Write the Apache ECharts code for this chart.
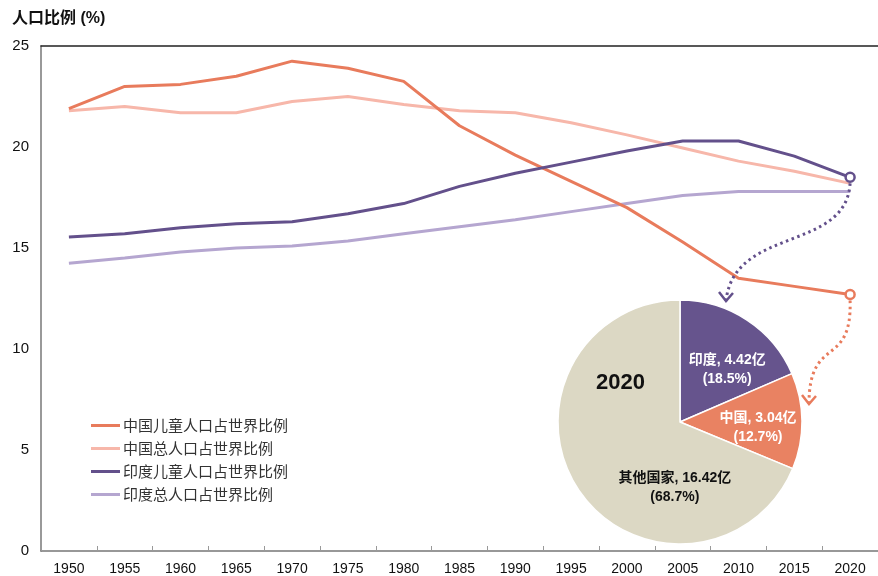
<!DOCTYPE html>
<html>
<head>
<meta charset="utf-8">
<script src="https://cdn.jsdelivr.net/npm/echarts@6/dist/echarts.min.js"></script>
<style>
body { margin: 0; background: #fff; }
#main { width: 878px; height: 576px; }
</style>
</head>
<body>
<div id="main"></div>
<script>
var years = ['1950', '1955', '1960', '1965', '1970', '1975', '1980', '1985', '1990', '1995', '2000', '2005', '2010', '2015', '2020'];
var chinaChild = [21.9, 23.0, 23.1, 23.5, 24.25, 23.9, 23.25, 21.05, 19.6, 18.3, 17.0, 15.3, 13.5, 13.1, 12.7];
var chinaTotal = [21.8, 22.0, 21.7, 21.7, 22.25, 22.5, 22.1, 21.8, 21.7, 21.2, 20.6, 19.95, 19.3, 18.8, 18.2];
var indiaChild = [15.55, 15.7, 16.0, 16.2, 16.3, 16.7, 17.2, 18.05, 18.7, 19.25, 19.8, 20.3, 20.3, 19.55, 18.5];
var indiaTotal = [14.25, 14.5, 14.8, 15.0, 15.1, 15.35, 15.7, 16.05, 16.4, 16.8, 17.2, 17.6, 17.8, 17.8, 17.8];
var seriesNames = ['中国儿童人口占世界比例', '中国总人口占世界比例', '印度儿童人口占世界比例', '印度总人口占世界比例'];
var lineColors = ['#e87b5c', '#f7b7aa', '#63508b', '#b5a6d0'];

var pieNames = ['印度', '中国', '其他国家'];
var pieValues = [4.42, 3.04, 16.42];
var piePercents = ['18.5%', '12.7%', '68.7%'];
var pieColors = ['#66548d', '#e98262', '#dcd8c4'];

var font = 'Liberation Sans, Arial, Noto Sans CJK SC, sans-serif';

function lineData(idx, arr, marked) {
    return arr.map(function (v, i) {
        if (marked && i === arr.length - 1) {
            return {
                value: v, symbol: 'circle', symbolSize: 9,
                itemStyle: { color: '#fff', borderColor: lineColors[idx], borderWidth: 2.5 }
            };
        }
        return v;
    });
}

function makeLine(idx, arr, marked) {
    return {
        name: seriesNames[idx],
        type: 'line',
        data: lineData(idx, arr, marked),
        symbol: 'none',
        showAllSymbol: true,
        lineStyle: { width: 3, color: lineColors[idx] },
        itemStyle: { color: lineColors[idx] },
        z: idx === 0 || idx === 2 ? 4 : 3
    };
}

var myChart = echarts.init(document.getElementById('main'));

var option = {
    animation: false,
    textStyle: { fontFamily: font },
    title: {
        text: '人口比例 (%)',
        left: 7,
        top: 6,
        textStyle: { fontSize: 16, fontWeight: 'bold', color: '#111', fontFamily: font }
    },
    legend: {
        orient: 'vertical',
        left: 86,
        top: 413,
        itemWidth: 29,
        itemHeight: 3,
        itemGap: 8,
        icon: 'rect',
        data: seriesNames,
        itemStyle: { borderWidth: 0 },
        textStyle: { fontSize: 15, color: '#333', fontFamily: 'Noto Sans CJK SC', padding: [0, 0, 0, -2] }
    },
    grid: { left: 41, top: 46, right: -10, bottom: 25, containLabel: false },
    xAxis: [{
        type: 'category',
        data: years,
        boundaryGap: true,
        axisLine: { lineStyle: { color: '#777', width: 1.5 } },
        axisTick: { show: true, inside: true, length: 5, lineStyle: { color: '#999' } },
        axisLabel: { color: '#111', fontSize: 14, margin: 11, interval: 0 }
    }, {
        type: 'category',
        data: years,
        position: 'top',
        axisLine: { lineStyle: { color: '#222', width: 1.5 } },
        axisTick: { show: false },
        axisLabel: { show: false }
    }],
    yAxis: {
        type: 'value',
        min: 0,
        max: 25,
        interval: 5,
        axisLine: { show: true, lineStyle: { color: '#777', width: 1.5 } },
        axisTick: { show: false },
        splitLine: { show: false },
        axisLabel: { color: '#111', fontSize: 15, margin: 12 }
    },
    series: [
        makeLine(1, chinaTotal, false),
        makeLine(3, indiaTotal, false),
        makeLine(0, chinaChild, true),
        makeLine(2, indiaChild, true),
        {
            type: 'pie',
            center: [680, 422],
            radius: 122,
            startAngle: 90,
            clockwise: true,
            z: 5,
            data: pieNames.map(function (n, i) {
                return {
                    name: n,
                    value: pieValues[i],
                    itemStyle: { color: pieColors[i] },
                    label: { color: i === 2 ? '#111' : '#fff' }
                };
            }),
            itemStyle: { borderColor: '#fff', borderWidth: 1.5 },
            label: {
                position: 'inside',
                fontSize: 14,
                fontWeight: 'bold',
                lineHeight: 19,
                fontFamily: font,
                formatter: function (p) {
                    return p.name + ', ' + p.value.toFixed(2) + '亿\n(' + piePercents[p.dataIndex] + ')';
                }
            },
            labelLayout: function (p) {
                var shifts = [[6, 0.5], [7, 3], [24, 15]];
                return { dx: shifts[p.dataIndex][0], dy: shifts[p.dataIndex][1] };
            },
            emphasis: { disabled: true }
        }
    ]
};

myChart.setOption(option);

// dotted arrows from the 2020 points down to the pie
var last = years.length - 1;
var pIndia = myChart.convertToPixel({ seriesIndex: 3 }, [last, indiaChild[last]]);
var pChina = myChart.convertToPixel({ seriesIndex: 2 }, [last, chinaChild[last]]);

function arrow(start, end, cp1, cp2, color) {
    var dash = { stroke: color, lineWidth: 3, lineDash: [2.5, 3.5], fill: null };
    return [{
        type: 'bezierCurve',
        z: 10,
        shape: { x1: start[0], y1: start[1] + 6, x2: end[0], y2: end[1], cpx1: cp1[0], cpy1: cp1[1], cpx2: cp2[0], cpy2: cp2[1] },
        style: dash
    }, {
        type: 'polyline',
        z: 10,
        shape: { points: [[end[0] - 7, end[1] - 9], [end[0], end[1]], [end[0] + 7, end[1] - 8]] },
        style: { stroke: color, lineWidth: 2.5, fill: null }
    }];
}

var iEnd = [726, 301];
var cEnd = [809, 404];
myChart.setOption({
    graphic: [{
        type: 'text',
        left: 596,
        top: 372,
        z: 10,
        style: { text: '2020', fontSize: 22, fontWeight: 'bold', fill: '#111', font: 'bold 22px Liberation Sans, Arial, sans-serif' }
    }].concat(
        arrow(pIndia, iEnd, [pIndia[0] - 4, pIndia[1] + 75], [iEnd[0] + 8, iEnd[1] - 75], lineColors[2]),
        arrow(pChina, cEnd, [pChina[0] + 2, pChina[1] + 75], [cEnd[0], cEnd[1] - 70], lineColors[0])
    )
});
</script>
</body>
</html>
